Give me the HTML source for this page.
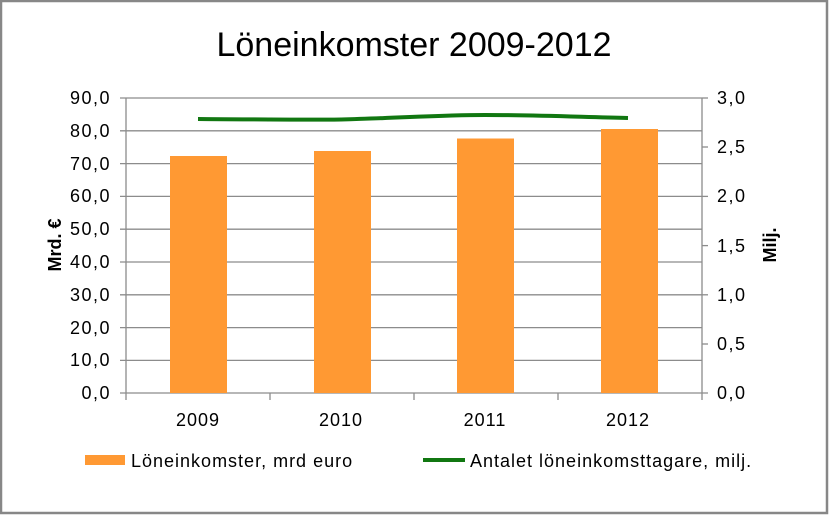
<!DOCTYPE html><html><head><style>body{margin:0;background:#fff}svg{display:block}text{font-family:"Liberation Sans",sans-serif;fill:#000}</style></head><body>
<svg width="829" height="515" xmlns="http://www.w3.org/2000/svg">
<rect x="1" y="1" width="826" height="512" fill="#fff" stroke="#878787" stroke-width="2.5"/>
<text x="414" y="56" font-size="34" text-anchor="middle">Löneinkomster 2009-2012</text>
<g stroke="#8c8c8c" stroke-width="1.3">
<line x1="120" y1="98" x2="702" y2="98"/><line x1="120" y1="130.8" x2="702" y2="130.8"/><line x1="120" y1="163.6" x2="702" y2="163.6"/><line x1="120" y1="196.4" x2="702" y2="196.4"/><line x1="120" y1="229.2" x2="702" y2="229.2"/><line x1="120" y1="262" x2="702" y2="262"/><line x1="120" y1="294.8" x2="702" y2="294.8"/><line x1="120" y1="327.6" x2="702" y2="327.6"/><line x1="120" y1="360.4" x2="702" y2="360.4"/><line x1="120" y1="393" x2="708" y2="393"/>
<line x1="126" y1="98" x2="126" y2="393"/><line x1="702" y1="98" x2="702" y2="400"/>
<line x1="702" y1="98" x2="708" y2="98"/><line x1="702" y1="147" x2="708" y2="147"/><line x1="702" y1="196.4" x2="708" y2="196.4"/><line x1="702" y1="245.6" x2="708" y2="245.6"/><line x1="702" y1="294.8" x2="708" y2="294.8"/><line x1="702" y1="344" x2="708" y2="344"/>
<line x1="126" y1="393" x2="126" y2="400"/><line x1="270" y1="393" x2="270" y2="400"/><line x1="414" y1="393" x2="414" y2="400"/><line x1="558" y1="393" x2="558" y2="400"/>
</g>
<g fill="#ff9933">
<rect x="170" y="156" width="57" height="237"/><rect x="314" y="151" width="57" height="242"/><rect x="457" y="138.5" width="57" height="254.5"/><rect x="601" y="129" width="57" height="264"/>
</g>
<path d="M198,119 C270,119.5 300,120 341,119.5 C400,118 440,115 485,115 C540,115 580,117 628,118" fill="none" stroke="#117711" stroke-width="4"/>
<g font-size="18" letter-spacing="1.5" text-anchor="end">
<text x="111" y="104">90,0</text><text x="111" y="137">80,0</text><text x="111" y="170">70,0</text><text x="111" y="202">60,0</text><text x="111" y="235">50,0</text><text x="111" y="268">40,0</text><text x="111" y="301">30,0</text><text x="111" y="334">20,0</text><text x="111" y="366">10,0</text><text x="111" y="399">0,0</text>
</g>
<g font-size="18" letter-spacing="1.5">
<text x="717" y="104">3,0</text><text x="717" y="153">2,5</text><text x="717" y="202">2,0</text><text x="717" y="252">1,5</text><text x="717" y="301">1,0</text><text x="717" y="350">0,5</text><text x="717" y="399">0,0</text>
</g>
<g font-size="18" letter-spacing="1" text-anchor="middle">
<text x="198" y="426">2009</text><text x="341" y="426">2010</text><text x="485" y="426">2011</text><text x="628" y="426">2012</text>
</g>
<text transform="translate(61,245) rotate(-90)" font-size="18" font-weight="bold" text-anchor="middle">Mrd. €</text>
<text transform="translate(776,245) rotate(-90)" font-size="18" font-weight="bold" text-anchor="middle">Milj.</text>
<rect x="85" y="455" width="40" height="10" fill="#ff9933"/>
<text x="131" y="467" font-size="18" letter-spacing="1">Löneinkomster, mrd euro</text>
<line x1="423" y1="460" x2="465" y2="460" stroke="#117711" stroke-width="4"/>
<text x="470" y="467" font-size="18" letter-spacing="1">Antalet löneinkomsttagare, milj.</text>
</svg></body></html>
